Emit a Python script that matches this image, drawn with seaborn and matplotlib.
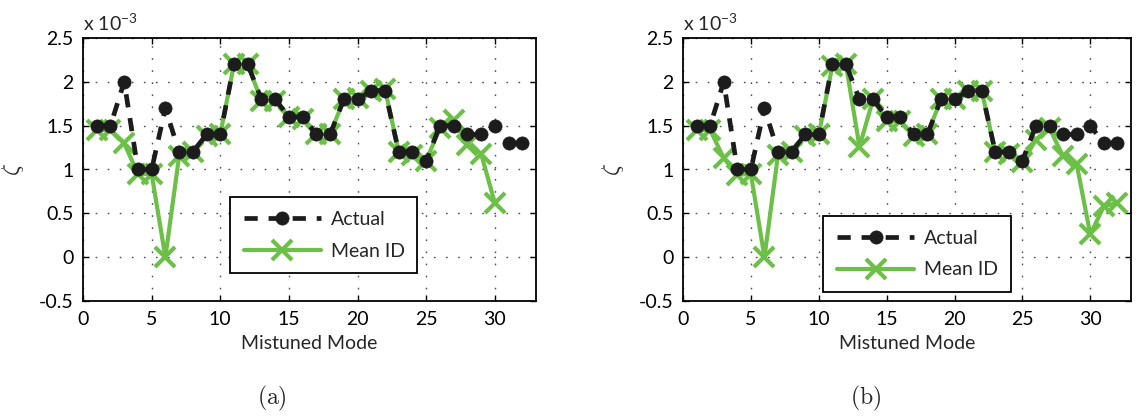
import matplotlib
matplotlib.use("Agg")
import matplotlib.pyplot as plt
import seaborn as sns

# ---- data (values in units of 1e-3) ----
modes = list(range(1, 33))
actual = [1.5, 1.5, 2.0, 1.0, 1.0, 1.7, 1.2, 1.2, 1.4, 1.4, 2.2, 2.2, 1.8, 1.8, 1.6, 1.6,
          1.4, 1.4, 1.8, 1.8, 1.9, 1.9, 1.2, 1.2, 1.1, 1.5, 1.5, 1.4, 1.4, 1.5, 1.3, 1.3]
modes_a = list(range(1, 31))
mean_id_a = [1.45, 1.45, 1.30, 0.95, 0.95, 0.0, 1.15, 1.2, 1.38, 1.4, 2.2, 2.2, 1.78, 1.78,
             1.6, 1.58, 1.4, 1.4, 1.8, 1.82, 1.9, 1.92, 1.2, 1.17, 1.1, 1.47, 1.57, 1.28,
             1.18, 0.62]
modes_b = list(range(1, 33))
mean_id_b = [1.45, 1.45, 1.13, 0.94, 0.95, 0.0, 1.17, 1.2, 1.38, 1.4, 2.18, 2.2, 1.26, 1.8,
             1.55, 1.55, 1.38, 1.4, 1.8, 1.8, 1.9, 1.9, 1.2, 1.18, 1.08, 1.34, 1.47, 1.15,
             1.06, 0.26, 0.58, 0.62]
xticks = [0, 5, 10, 15, 20, 25, 30]
yticks = [-0.5, 0, 0.5, 1, 1.5, 2, 2.5]
ytick_labels = ["-0.5", "0", "0.5", "1", "1.5", "2", "2.5"]
panel_labels = ["(a)", "(b)"]

sns.set_style("ticks")
plt.rcParams['font.family'] = ['Lato', 'DejaVu Sans']
plt.rcParams['mathtext.fontset'] = 'custom'
plt.rcParams['mathtext.rm'] = 'Lato'
plt.rcParams['mathtext.it'] = 'Lato:italic'
plt.rcParams['mathtext.bf'] = 'Lato:bold'

GREEN = "#6cbf47"
BLACK = "#1c1c1c"
FS = 14

W, H = 1141, 419
fig = plt.figure(figsize=(W / 100, H / 100), dpi=100)
ax_a = fig.add_axes([83 / W, 1 - 301 / H, 453 / W, 263 / H])
ax_b = fig.add_axes([683 / W, 1 - 301 / H, 448 / W, 263 / H])

legend_boxes = [(0.3245, 0.106, 0.4125, 0.282), (0.3125, 0.034, 0.42, 0.278)]
label_x = [272 / W, 866 / W]

for ax, mx, my, lb in [(ax_a, modes_a, mean_id_a, legend_boxes[0]),
                       (ax_b, modes_b, mean_id_b, legend_boxes[1])]:
    sns.lineplot(x=mx, y=my, ax=ax, color=GREEN, linewidth=3.0, marker='x',
                 markersize=14, markeredgewidth=3.0, markeredgecolor=GREEN,
                 label="Mean ID", zorder=3)
    g_line = ax.lines[-1]
    sns.lineplot(x=modes, y=actual, ax=ax, color=BLACK, linewidth=3.4, linestyle='--',
                 marker='o', markersize=9.5, markeredgewidth=0.5,
                 markeredgecolor=BLACK, markerfacecolor=BLACK,
                 label="Actual", zorder=4)
    b_line = ax.lines[-1]
    b_line.set_dashes([2.8, 2.3])

    ax.set_xlim(0, 33)
    ax.set_ylim(-0.5, 2.5)
    ax.set_xticks(xticks)
    ax.set_yticks(yticks)
    ax.set_yticklabels(ytick_labels)
    ax.grid(True, color='0.3', linewidth=1.0, linestyle=(0, (1.2, 7.5)))
    ax.tick_params(direction='in', top=True, right=True, length=4, width=1.0,
                   labelsize=FS, colors='black', pad=7)
    for s in ax.spines.values():
        s.set_visible(True)
        s.set_linewidth(1.3)
        s.set_color('black')
    ax.set_xlabel("Mistuned Mode", fontsize=FS, labelpad=5)
    ax.set_ylabel(r'$\zeta$', fontsize=17, math_fontfamily='cm', labelpad=9)
    ax.text(0.0, 1.015, r'x 10$^{-3}$', transform=ax.transAxes, fontsize=FS,
            ha='left', va='bottom')

    leg = ax.legend(handles=[b_line, g_line], labels=["Actual", "Mean ID"],
                    loc='lower left', bbox_to_anchor=lb, mode='expand',
                    borderaxespad=0, fontsize=FS, handlelength=4.0,
                    handletextpad=0.5, labelspacing=0.75, borderpad=0.7,
                    fancybox=False, framealpha=1, edgecolor='black', numpoints=1)
    leg.get_frame().set_linewidth(1.3)
    leg.set_zorder(10)

for lab, px in zip(panel_labels, label_x):
    fig.text(px, 1 - 398 / H, r'$\mathrm{' + lab + '}$', math_fontfamily='cm',
             fontsize=17, ha='center', va='center')

fig.savefig("out.png", dpi=100)
